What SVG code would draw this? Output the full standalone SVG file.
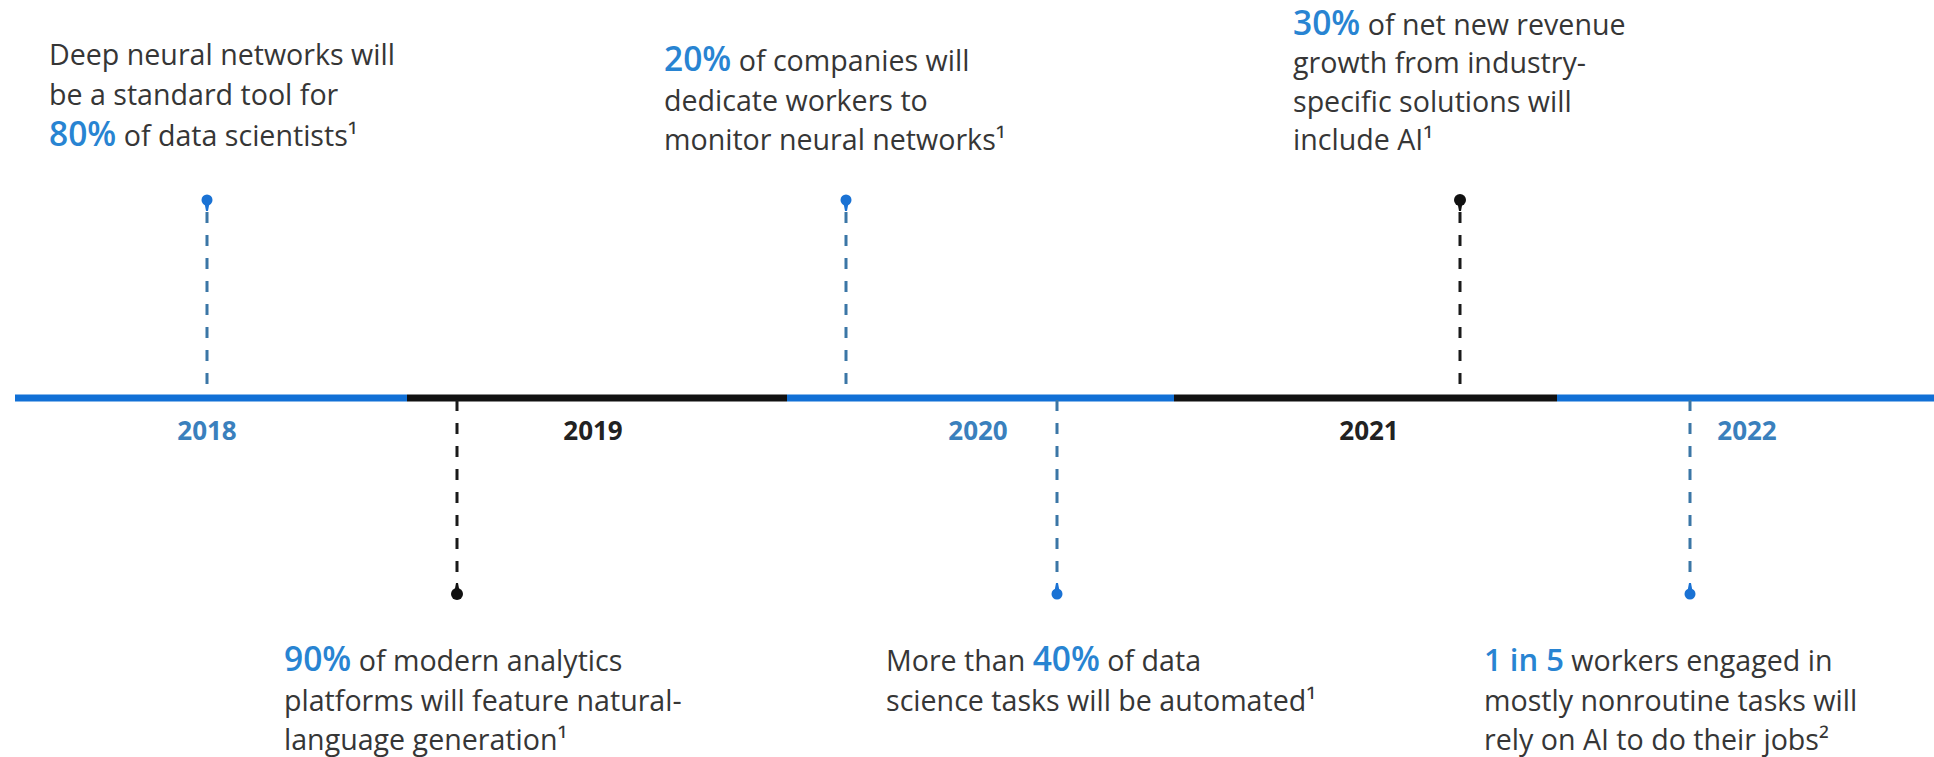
<svg xmlns="http://www.w3.org/2000/svg" width="1934" height="757" viewBox="0 0 1934 757">
  <style>
    .body { font-family: "Open Sans", "Noto Sans", "Liberation Sans", sans-serif; font-size: 28.6px; fill: #363636; }
    .num { font-size: 33.5px; font-weight: 600; fill: #2884d2; }
    .num-sm { font-size: 31px; }
    .year { font-family: "Open Sans", "Noto Sans", "Liberation Sans", sans-serif; font-size: 26px; font-weight: 700; text-anchor: middle; }
    .year-blue { fill: #3a80bd; }
    .year-dark { fill: #222222; }
    .axis { stroke-width: 7; fill: none; }
    .axis-blue { stroke: #1170d6; }
    .axis-dark { stroke: #111111; }
    .dash { stroke-width: 3; stroke-dasharray: 11 12; fill: none; }
    .dash-blue { stroke: #3b76a6; }
    .dash-dark { stroke: #1a1a1a; }
    .pin-blue { fill: #1a72d4; }
    .pin-dark { fill: #111111; }
  </style>

  <rect width="1934" height="757" fill="#ffffff"/>

  <!-- timeline axis, alternating year bands -->
  <g id="axis">
    <line class="axis axis-blue" x1="15" y1="398" x2="407" y2="398"/>
    <line class="axis axis-dark" x1="407" y1="398" x2="787" y2="398"/>
    <line class="axis axis-blue" x1="787" y1="398" x2="1174" y2="398"/>
    <line class="axis axis-dark" x1="1174" y1="398" x2="1557" y2="398"/>
    <line class="axis axis-blue" x1="1557" y1="398" x2="1934" y2="398"/>
  </g>

  <!-- year labels -->
  <g id="years">
    <text class="year year-blue" x="207" y="440">2018</text>
    <text class="year year-dark" x="593" y="440">2019</text>
    <text class="year year-blue" x="978" y="440">2020</text>
    <text class="year year-dark" x="1369" y="440">2021</text>
    <text class="year year-blue" x="1747" y="440">2022</text>
  </g>

  <!-- dashed leaders from the axis to each pin -->
  <g id="connectors">
    <line class="dash dash-blue" x1="207" y1="212" x2="207" y2="396"/>
    <line class="dash dash-dark" x1="457" y1="400" x2="457" y2="583"/>
    <line class="dash dash-blue" x1="846" y1="212" x2="846" y2="396"/>
    <line class="dash dash-blue" x1="1057" y1="400" x2="1057" y2="583"/>
    <line class="dash dash-dark" x1="1460" y1="212" x2="1460" y2="396"/>
    <line class="dash dash-blue" x1="1690" y1="400" x2="1690" y2="583"/>
  </g>

  <!-- 2018 -->
  <g id="node-2018">
    <circle class="pin-blue" cx="207" cy="200" r="5.5"/>
    <path class="pin-blue" d="M204.5 203 L209.5 203 L208 211 L206 211 Z"/>
    <text class="body" x="49" y="65">Deep neural networks will</text>
    <text class="body" x="49" y="105">be a standard tool for</text>
    <text class="body" x="49" y="146"><tspan class="num">80%</tspan> of data scientists¹</text>
  </g>

  <!-- 2019 -->
  <g id="node-2019">
    <circle class="pin-dark" cx="457" cy="594" r="6"/>
    <path class="pin-dark" d="M454.5 591 L459.5 591 L458 583 L456 583 Z"/>
    <text class="body" x="284" y="671"><tspan class="num">90%</tspan> of modern analytics</text>
    <text class="body" x="284" y="711">platforms will feature natural-</text>
    <text class="body" x="284" y="750">language generation¹</text>
  </g>

  <!-- 2020, above the axis -->
  <g id="node-2020-a">
    <circle class="pin-blue" cx="846" cy="200" r="5.5"/>
    <path class="pin-blue" d="M843.5 203 L848.5 203 L847 211 L845 211 Z"/>
    <text class="body" x="664" y="71"><tspan class="num">20%</tspan> of companies will</text>
    <text class="body" x="664" y="111">dedicate workers to</text>
    <text class="body" x="664" y="150">monitor neural networks¹</text>
  </g>

  <!-- 2020, below the axis -->
  <g id="node-2020-b">
    <circle class="pin-blue" cx="1057" cy="594" r="5.5"/>
    <path class="pin-blue" d="M1054.5 591 L1059.5 591 L1058 583 L1056 583 Z"/>
    <text class="body" x="886" y="671">More than <tspan class="num">40%</tspan> of data</text>
    <text class="body" x="886" y="711">science tasks will be automated¹</text>
  </g>

  <!-- 2021 -->
  <g id="node-2021">
    <circle class="pin-dark" cx="1460" cy="200" r="6"/>
    <path class="pin-dark" d="M1457.5 203 L1462.5 203 L1461 211 L1459 211 Z"/>
    <text class="body" x="1293" y="35"><tspan class="num">30%</tspan> of net new revenue</text>
    <text class="body" x="1293" y="73">growth from industry-</text>
    <text class="body" x="1293" y="112">specific solutions will</text>
    <text class="body" x="1293" y="150">include AI¹</text>
  </g>

  <!-- 2022 -->
  <g id="node-2022">
    <circle class="pin-blue" cx="1690" cy="594" r="5.5"/>
    <path class="pin-blue" d="M1687.5 591 L1692.5 591 L1691 583 L1689 583 Z"/>
    <text class="body" x="1484" y="671"><tspan class="num num-sm">1 in 5</tspan> workers engaged in</text>
    <text class="body" x="1484" y="711">mostly nonroutine tasks will</text>
    <text class="body" x="1484" y="750">rely on AI to do their jobs²</text>
  </g>
</svg>
